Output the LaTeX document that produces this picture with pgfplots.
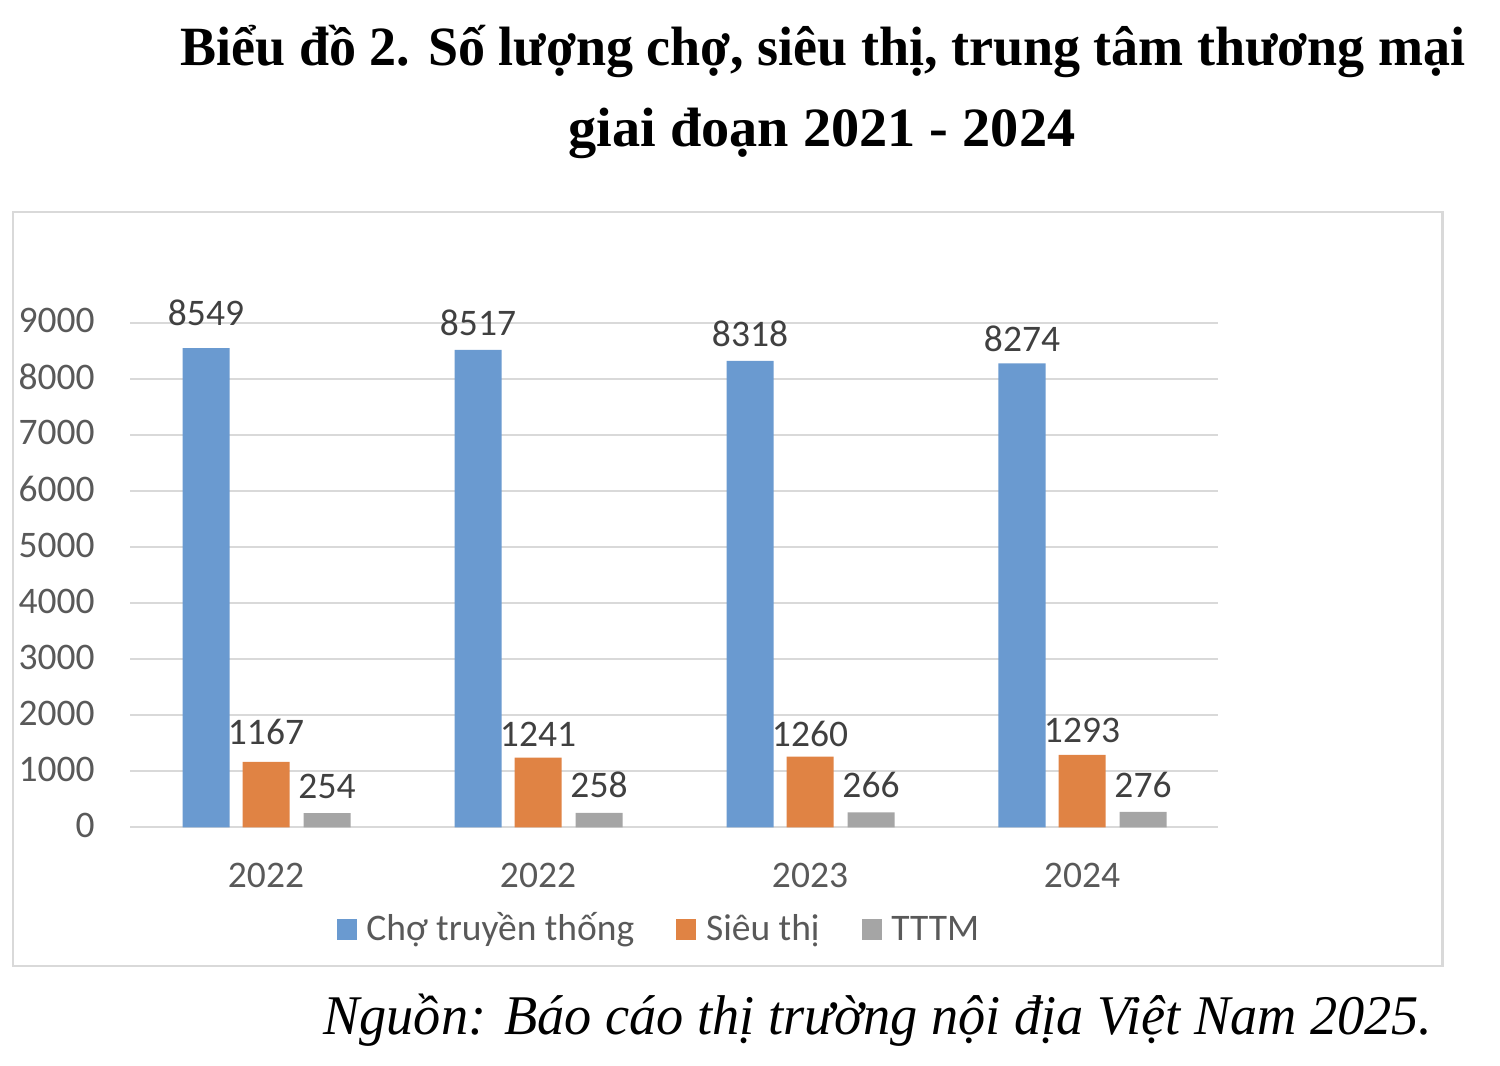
\documentclass[border=0pt]{standalone}
\usepackage{pgfplots}
\pgfplotsset{compat=1.18}
\usepackage{pgfplotstable}
\usepackage{graphicx}
\usepackage{fontspec}
\setmainfont{Liberation Serif}
\newfontfamily\chartfont{Carlito}

\definecolor{cblue}{HTML}{6A9AD0}
\definecolor{corange}{HTML}{E08344}
\definecolor{cgray}{HTML}{A5A5A5}
\definecolor{gridc}{HTML}{D9D9D9}
\definecolor{tickc}{HTML}{595959}
\definecolor{labc}{HTML}{404040}

\pgfplotstableread{
x y lab off
0 8549 8549 11.5
1 8517 8517 7.4
2 8318 8318 7.1
3 8274 8274 5.85
}\cho
\pgfplotstableread{
x y lab off
0 1167 1167 8.45
1 1241 1241 5.5
2 1260 1260 5.0
3 1293 1293 6.05
}\sieuthi
\pgfplotstableread{
x y lab off
0 254 254 7.4
1 258 258 7.75
2 266 266 7.55
3 276 276 7.25
}\tttm

\newcommand{\cf}{\chartfont\fontsize{18.75pt}{22pt}\selectfont}

\begin{document}
\begin{tikzpicture}
\path[use as bounding box] (0pt,0pt) rectangle (750pt,-533pt);
\draw[gridc, line width=1.25pt] (6.5pt,-106pt) rectangle (721.25pt,-483pt);
\node[anchor=base west, inner sep=0pt] at (90pt,-32.5pt)
  {\fontsize{27.7pt}{30pt}\selectfont\bfseries\resizebox{642.5pt}{\height}{Biểu đồ 2. Số lượng chợ, siêu thị, trung tâm thương mại}};
\node[anchor=base west, inner sep=0pt] at (284pt,-73pt)
  {\fontsize{27.7pt}{30pt}\selectfont\bfseries\resizebox{253.5pt}{\height}{giai đoạn 2021 - 2024}};
\node[anchor=base west, inner sep=0pt] at (161.5pt,-517pt)
  {\fontsize{28pt}{30pt}\selectfont\itshape\resizebox{554.5pt}{\height}{Nguồn: Báo cáo thị trường nội địa Việt Nam 2025.}};

\begin{axis}[
  at={(65pt,-413.65pt)}, anchor=south west,
  scale only axis, width=544pt, height=252.3pt,
  xmin=-0.5, xmax=3.5, ymin=0, ymax=9000,
  axis line style={draw=none},
  major tick length=0pt,
  ytick={0,1000,...,9000},
  yticklabels={0,1000,2000,3000,4000,5000,6000,7000,8000,9000},
  xtick={0,1,2,3}, xticklabels={2022,2022,2023,2024},
  ymajorgrids, grid style={gridc, line width=1pt},
  tick label style={font=\cf, text=tickc, inner sep=0pt},
  yticklabel style={anchor=east, xshift=-17.5pt, yshift=1pt},
  xticklabel style={anchor=north, yshift=-17.7pt},
  ybar, bar width=23.5pt,
  point meta=explicit symbolic,
  nodes near coords,
  visualization depends on={\thisrow{off} \as \myoff},
  every node near coord/.append style={font=\cf, text=labc, anchor=base, inner sep=0pt, yshift=\myoff pt},
  legend columns=3,
  legend cell align=left,
  legend style={at={(0.19,-0.2075)}, anchor=west, draw=none, fill=none,
    inner sep=0pt, outer sep=0pt, font=\cf, text=tickc,
    nodes={inner sep=0pt, text height=12pt, text depth=4pt},
    /tikz/every odd column/.style={column sep=4.85pt},
    /tikz/every even column/.style={column sep=21pt}},
  legend image code/.code={\fill[#1] (0pt,-4pt) rectangle (10pt,6.5pt);},
]
\addplot[fill=cblue, draw=none, bar shift=-30pt] table[x=x, y=y, meta=lab] {\cho};
\addplot[fill=corange, draw=none, bar shift=0pt] table[x=x, y=y, meta=lab] {\sieuthi};
\addplot[fill=cgray, draw=none, bar shift=30.5pt] table[x=x, y=y, meta=lab] {\tttm};
\legend{Chợ truyền thống, Siêu thị, TTTM}
\end{axis}
\end{tikzpicture}
\end{document}
